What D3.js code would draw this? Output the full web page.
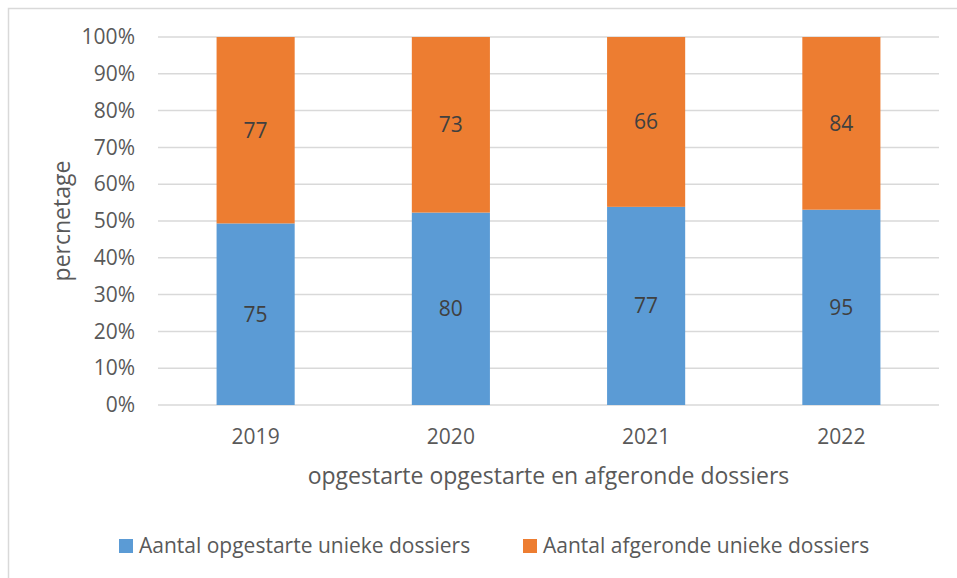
<!DOCTYPE html>
<html>
<head>
<meta charset="utf-8">
<script src="https://cdn.jsdelivr.net/npm/d3@7"></script>
<style>
  body { margin: 0; background: #fff; }
  text { font-family: "Open Sans", sans-serif; }
</style>
</head>
<body>
<svg id="chart" width="957" height="578"></svg>
<script>
const years = ["2019", "2020", "2021", "2022"];
const opgestarte = [75, 80, 77, 95];
const afgeronde = [77, 73, 66, 84];
const seriesNames = ["Aantal opgestarte unieke dossiers", "Aantal afgeronde unieke dossiers"];
const seriesColors = ["#5B9BD5", "#ED7D31"];
const yTicks = [0, 0.1, 0.2, 0.3, 0.4, 0.5, 0.6, 0.7, 0.8, 0.9, 1];

const width = 957, height = 578;
const plotLeft = 158, plotRight = 939, plotTop = 37, plotBottom = 405;

const svg = d3.select("#chart");

// outer chart border (runs off the right and bottom edge)
svg.append("rect")
  .attr("x", 8.5).attr("y", 8.5)
  .attr("width", width).attr("height", height)
  .attr("fill", "none").attr("stroke", "#d9d9d9").attr("stroke-width", 1.5);

const x = d3.scaleBand().domain(years).range([plotLeft, plotRight]).paddingInner(0.6).paddingOuter(0.3);
const y = d3.scaleLinear().domain([0, 1]).range([plotBottom, plotTop]);

// gridlines
svg.append("g")
  .selectAll("line")
  .data(yTicks)
  .join("line")
  .attr("x1", plotLeft).attr("x2", plotRight)
  .attr("y1", (d) => y(d)).attr("y2", (d) => y(d))
  .attr("stroke", "#d9d9d9").attr("stroke-width", 1.5);

// y axis labels
const yAxis = d3.axisLeft(y).tickValues(yTicks).tickFormat(d3.format(".0%")).tickSize(0).tickPadding(23);
svg.append("g")
  .attr("transform", `translate(${plotLeft},0)`)
  .call(yAxis)
  .call((g) => g.select(".domain").remove())
  .selectAll("text")
  .attr("font-size", 21).attr("fill", "#595959").attr("font-family", "Open Sans, sans-serif");

// stacked 100% data
const rows = years.map((yr, i) => ({ year: yr, a: opgestarte[i], b: afgeronde[i] }));
const stack = d3.stack().keys(["a", "b"]).offset(d3.stackOffsetExpand);
const layers = stack(rows);

const layerG = svg.append("g")
  .selectAll("g")
  .data(layers)
  .join("g")
  .attr("fill", (d, i) => seriesColors[i]);

layerG.selectAll("rect")
  .data((d) => d)
  .join("rect")
  .attr("x", (d) => x(d.data.year))
  .attr("width", x.bandwidth())
  .attr("y", (d) => y(d[1]))
  .attr("height", (d) => y(d[0]) - y(d[1]));

// value labels
layerG.selectAll("text")
  .data((d) => d.map((v) => ({ v: v, key: d.key })))
  .join("text")
  .attr("x", (d) => x(d.v.data.year) + x.bandwidth() / 2)
  .attr("y", (d) => y((d.v[0] + d.v[1]) / 2))
  .attr("dy", "0.35em")
  .attr("text-anchor", "middle")
  .attr("font-size", 21)
  .attr("fill", "#404040")
  .text((d) => d.v.data[d.key]);

// x axis labels
const xAxis = d3.axisBottom(x).tickSize(0).tickPadding(24);
svg.append("g")
  .attr("transform", `translate(0,${plotBottom})`)
  .call(xAxis)
  .call((g) => g.select(".domain").remove())
  .selectAll("text")
  .attr("font-size", 21).attr("fill", "#595959").attr("font-family", "Open Sans, sans-serif");

// axis titles
svg.append("text")
  .attr("x", (plotLeft + plotRight) / 2).attr("y", 484)
  .attr("text-anchor", "middle")
  .attr("font-size", 23).attr("fill", "#595959")
  .text("opgestarte opgestarte en afgeronde dossiers");

svg.append("text")
  .attr("transform", `translate(70,${(plotTop + plotBottom) / 2}) rotate(-90)`)
  .attr("text-anchor", "middle")
  .attr("font-size", 23).attr("fill", "#595959")
  .text("percnetage");

// legend
const legendX = [119, 523];
const legend = svg.append("g")
  .selectAll("g")
  .data(seriesNames)
  .join("g")
  .attr("transform", (d, i) => `translate(${legendX[i]},539)`);
legend.append("rect")
  .attr("width", 14).attr("height", 14)
  .attr("fill", (d, i) => seriesColors[i]);
legend.append("text")
  .attr("x", 20).attr("y", 7).attr("dy", "0.35em")
  .attr("font-size", 21).attr("fill", "#595959")
  .text((d) => d);
</script>
</body>
</html>
